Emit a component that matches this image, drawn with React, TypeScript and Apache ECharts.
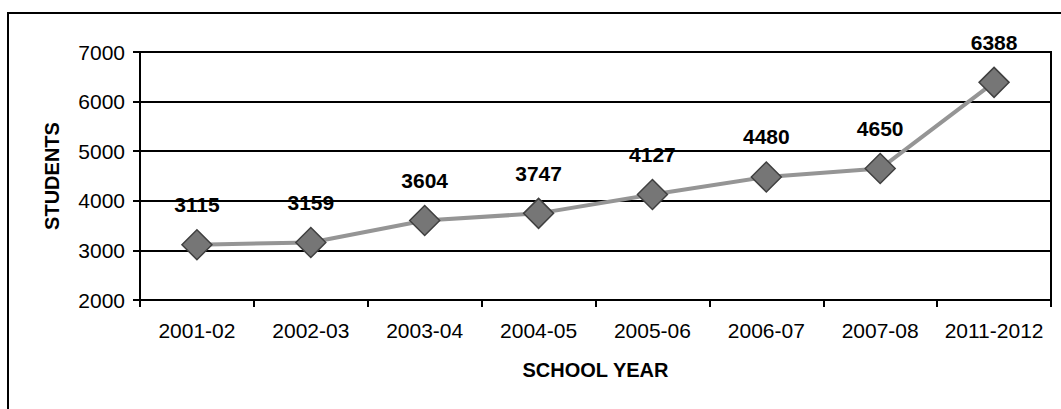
import React, { useEffect, useRef } from "react";
import * as echarts from "echarts";

const categories = ["2001-02", "2002-03", "2003-04", "2004-05", "2005-06", "2006-07", "2007-08", "2011-2012"];
const students = [3115, 3159, 3604, 3747, 4127, 4480, 4650, 6388];
const yTicks = { min: 2000, max: 7000, interval: 1000 };
const xTitle = "SCHOOL YEAR";
const yTitle = "STUDENTS";

const FONT = "'Liberation Sans', Arial, sans-serif";

export default function App() {
  const ref = useRef<HTMLDivElement>(null);
  useEffect(() => {
    if (!ref.current) return;
    const chart = echarts.init(ref.current, undefined, { renderer: "svg" });
    chart.setOption({
      animation: false,
      backgroundColor: "#ffffff",
      textStyle: { fontFamily: FONT },
      graphic: [
        {
          type: "rect",
          shape: { x: 8, y: 13, width: 1200, height: 600 },
          style: { fill: "none", stroke: "#000", lineWidth: 2 },
          z: -1,
        },
      ],
      grid: {
        left: 140,
        right: 10,
        top: 52,
        bottom: 109,
        show: true,
        borderColor: "#000",
        borderWidth: 2,
        backgroundColor: "transparent",
      },
      xAxis: {
        type: "category",
        data: categories,
        boundaryGap: true,
        name: xTitle,
        nameLocation: "middle",
        nameGap: 60,
        nameTextStyle: { fontSize: 20, fontWeight: "bold", color: "#000", fontFamily: FONT },
        axisLine: { show: true, lineStyle: { color: "#000", width: 2 } },
        axisTick: { show: true, length: 7, inside: false, lineStyle: { color: "#000", width: 2 }, alignWithLabel: false },
        axisLabel: { fontSize: 21, color: "#000", margin: 20, fontFamily: FONT, interval: 0 },
        splitLine: { show: false },
      },
      yAxis: {
        type: "value",
        min: yTicks.min,
        max: yTicks.max,
        interval: yTicks.interval,
        name: yTitle,
        nameLocation: "middle",
        nameGap: 78,
        nameRotate: 90,
        nameTextStyle: { fontSize: 20, fontWeight: "bold", color: "#000", fontFamily: FONT },
        axisLine: { show: true, lineStyle: { color: "#000", width: 2 } },
        axisTick: { show: true, length: 7, lineStyle: { color: "#000", width: 2 } },
        axisLabel: { fontSize: 21, color: "#000", margin: 15, fontFamily: FONT, formatter: (v: number) => String(v) },
        splitLine: { show: true, lineStyle: { color: "#000", width: 2 } },
      },
      series: [
        {
          type: "line",
          data: students,
          symbol: "diamond",
          symbolSize: 30,
          lineStyle: { color: "#959595", width: 4 },
          itemStyle: { color: "#767676", borderColor: "#404040", borderWidth: 1.5 },
          label: {
            show: true,
            position: "top",
            distance: 14,
            fontSize: 21,
            fontWeight: "bold",
            color: "#000",
            fontFamily: FONT,
          },
          z: 3,
        },
      ],
    });
    return () => chart.dispose();
  }, []);
  return (
    <div
      ref={ref}
      style={{ position: "absolute", left: 0, top: 0, width: 1061, height: 409 }}
    />
  );
}
